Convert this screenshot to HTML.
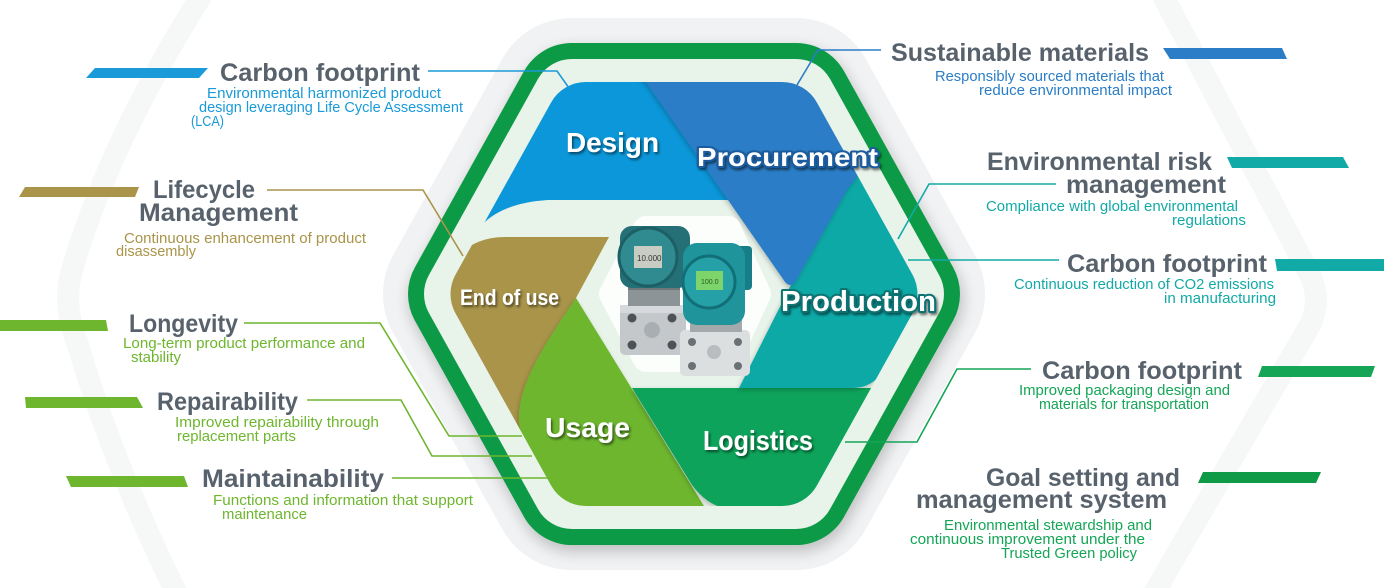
<!DOCTYPE html>
<html><head><meta charset="utf-8">
<style>
html,body{margin:0;padding:0;background:#fff;width:1384px;height:588px;overflow:hidden;}
svg{display:block;}
.h{font-family:"Liberation Sans",Arial,sans-serif;font-weight:bold;font-size:25px;fill:#58626c;}
.d{font-family:"Liberation Sans",Arial,sans-serif;font-size:14.5px;}
.s{font-family:"Liberation Sans",Arial,sans-serif;font-weight:bold;fill:#fff;}
</style></head><body>
<svg width="1384" height="588" viewBox="0 0 1384 588" xmlns="http://www.w3.org/2000/svg">
<defs>
<filter id="sh" x="-20%" y="-20%" width="140%" height="140%"><feGaussianBlur stdDeviation="7"/></filter>
<filter id="ts" x="-10%" y="-40%" width="130%" height="180%"><feDropShadow dx="1.5" dy="2" stdDeviation="1.2" flood-color="#000" flood-opacity="0.55"/></filter>
<filter id="ss" x="-20%" y="-20%" width="140%" height="140%"><feDropShadow dx="-1" dy="2" stdDeviation="2.5" flood-color="#000" flood-opacity="0.22"/></filter>
<mask id="m"><polygon points="490.5,294 586,122 782,122 877.5,294 782,466 586,466" fill="#fff" stroke="#fff" stroke-width="80" stroke-linejoin="round"/></mask>
</defs>

<!-- faint background decorations -->
<g fill="none" stroke="#f6f7f7" stroke-width="22" stroke-linecap="round">
<path d="M205,-10 Q110,140 72,270 Q62,305 78,345 Q115,470 180,600"/>
<path d="M1160,-10 L1310,275 Q1322,300 1310,325 L1150,600"/>
</g>

<!-- halo, shadow, frame -->
<polygon points="463,294 572,98 796,98 905,294 796,490 572,490" fill="#f1f2f3" stroke="#f1f2f3" stroke-width="160" stroke-linejoin="round"/>
<polygon points="463,294 572,98 796,98 905,294 796,490 572,490" transform="translate(2,6)" fill="#000" stroke="#000" stroke-width="112" stroke-linejoin="round" opacity="0.2" filter="url(#sh)"/>
<polygon points="463,294 572,98 796,98 905,294 796,490 572,490" fill="#0c9a46" stroke="#0c9a46" stroke-width="110" stroke-linejoin="round"/>
<polygon points="463,294 572,98 796,98 905,294 796,490 572,490" fill="#e8f3ea" stroke="#e8f3ea" stroke-width="78" stroke-linejoin="round"/>

<!-- segments -->
<g mask="url(#m)">
<path d="M479,228 Q500,203 548,200 L760,200 L760,40 L400,40 L400,228 Z" fill="#0b97d9"/>
<path d="M609,237 L576,298 L540,380 L540,470 L400,470 L400,300 L448,268 Q468,237 505,237 Z" fill="#a9944a"/>
<path d="M576,298 L728,545 L575,545 L570,506 C540,482 518,450 519,415 C520,385 540,350 576,298 Z" fill="#6db62e" filter="url(#ss)"/>
<path d="M632,388 L930,388 L930,545 L742,545 L724,508 Q706,504 692,485 Z" fill="#10a35a" filter="url(#ss)"/>
<path d="M739,388 L853,162 L950,162 L950,300 L882,372 Q872,388 852,388 Z" fill="#08a9a7" filter="url(#ss)"/>
<path d="M640,55 L890,55 L866,158 Q858,178 848,188 L797,279 Q790,291 783,279 L650,88 Q645,80 640,78 Z" fill="#2a7dc6" filter="url(#ss)"/>
</g>

<!-- center white hex -->
<polygon points="646,229 728,229 758,294 728,359 646,359 612,294" fill="#fcfefc" stroke="#fcfefc" stroke-width="26" stroke-linejoin="round"/>

<!-- product: left transmitter -->
<rect x="620" y="305" width="66" height="50" rx="5" fill="#c4c8cb"/>
<rect x="620" y="305" width="66" height="8" fill="#d6d9db"/>
<circle cx="632" cy="318" r="4.5" fill="#4d5256"/><circle cx="672" cy="318" r="4.5" fill="#4d5256"/>
<circle cx="632" cy="345" r="4.5" fill="#4d5256"/><circle cx="672" cy="345" r="4.5" fill="#4d5256"/>
<circle cx="652" cy="330" r="8" fill="#a9aeb2"/>
<rect x="628" y="285" width="52" height="21" fill="#8d9498"/>
<rect x="628" y="285" width="52" height="5" fill="#6f777b"/>
<rect x="620" y="226" width="70" height="62" rx="12" fill="#256f76"/>
<circle cx="648" cy="257" r="29" fill="#2f8b90" stroke="#1c5f65" stroke-width="3"/>
<rect x="634" y="246" width="28" height="22" fill="#c9ccc3"/>
<text x="637" y="261" font-family="Liberation Sans,sans-serif" font-size="8" fill="#333">10.000</text>

<!-- product: right transmitter -->
<rect x="680" y="330" width="70" height="46" rx="5" fill="#dcdfe0"/>
<circle cx="692" cy="342" r="4" fill="#6b7073"/><circle cx="738" cy="342" r="4" fill="#6b7073"/>
<circle cx="692" cy="366" r="4" fill="#6b7073"/><circle cx="738" cy="366" r="4" fill="#6b7073"/>
<circle cx="714" cy="352" r="7" fill="#b9bdc0"/>
<rect x="690" y="320" width="52" height="12" fill="#a4a9ac"/>
<rect x="736" y="246" width="16" height="44" rx="4" fill="#177d86"/>
<rect x="683" y="243" width="62" height="82" rx="14" fill="#1f949b"/>
<circle cx="709" cy="282" r="26" fill="#24a0a6" stroke="#126f77" stroke-width="3"/>
<rect x="696" y="271" width="27" height="19" fill="#7dd46b"/>
<text x="701" y="284" font-family="Liberation Sans,sans-serif" font-size="7" fill="#2c5a22">100.0</text>

<!-- segment labels -->
<g filter="url(#ts)">
<text class="s" x="566" y="152" font-size="28" textLength="93" lengthAdjust="spacingAndGlyphs">Design</text>
<text class="s" x="697" y="166" font-size="26" textLength="181" lengthAdjust="spacingAndGlyphs" stroke="#1c5c9e" stroke-width="4" paint-order="stroke" stroke-linejoin="round">Procurement</text>
<text class="s" x="781" y="311" font-size="29" textLength="155" lengthAdjust="spacingAndGlyphs" stroke="#0a7272" stroke-width="4" paint-order="stroke" stroke-linejoin="round">Production</text>
<text class="s" x="460" y="305" font-size="22" textLength="99" lengthAdjust="spacingAndGlyphs">End of use</text>
<text class="s" x="545" y="437" font-size="28" textLength="85" lengthAdjust="spacingAndGlyphs">Usage</text>
<text class="s" x="703" y="450" font-size="28" textLength="110" lengthAdjust="spacingAndGlyphs">Logistics</text>
</g>

<!-- connectors -->
<g fill="none" stroke-width="1.6">
<polyline points="428,71 557,71 569,88" stroke="#1a9ad8"/>
<polyline points="267,190 423,190 463,256" stroke="#a9944a"/>
<polyline points="244,323 380,323 449,436 522,436" stroke="#6db62e"/>
<polyline points="307,400 401,400 432,456 532,456" stroke="#6db62e"/>
<polyline points="392,478 548,478" stroke="#6db62e"/>
<polyline points="881,50 818,50 797,85" stroke="#2a7dc6"/>
<polyline points="1056,184 929,184 898,239" stroke="#12aaa6"/>
<polyline points="1059,260 908,260" stroke="#12aaa6"/>
<polyline points="1031,369 957,369 917,442 845,442" stroke="#14a556"/>
</g>

<!-- bars -->
<polygon points="95,68 208,68 199,78 86,78" fill="#1a9ad8"/>
<polygon points="25,187 139,187 135,197 19,197" fill="#a9944a"/>
<polygon points="0,320 106,320 108,331 0,331" fill="#6db62e"/>
<polygon points="25,397 137,397 143,408 26,408" fill="#6db62e"/>
<polygon points="66,476 184,476 188,487 71,487" fill="#6db62e"/>
<polygon points="1163,48 1282,48 1287,59 1170,59" fill="#2a7dc6"/>
<polygon points="1227,157 1343,157 1349,168 1232,168" fill="#12aaa6"/>
<polygon points="1275,259 1384,259 1384,271 1277,271" fill="#12aaa6"/>
<polygon points="1262,366 1375,366 1371,377 1258,377" fill="#14a556"/>
<polygon points="1203,472 1321,472 1316,483 1198,483" fill="#0e9a47"/>

<!-- headings -->
<text class="h" x="220" y="81" textLength="200" lengthAdjust="spacingAndGlyphs">Carbon footprint</text>
<text class="h" x="153" y="198" textLength="102" lengthAdjust="spacingAndGlyphs">Lifecycle</text>
<text class="h" x="139" y="221" textLength="159" lengthAdjust="spacingAndGlyphs">Management</text>
<text class="h" x="129" y="332" textLength="109" lengthAdjust="spacingAndGlyphs">Longevity</text>
<text class="h" x="157" y="410" textLength="141" lengthAdjust="spacingAndGlyphs">Repairability</text>
<text class="h" x="202" y="487" textLength="182" lengthAdjust="spacingAndGlyphs">Maintainability</text>
<text class="h" x="891" y="61" textLength="258" lengthAdjust="spacingAndGlyphs">Sustainable materials</text>
<text class="h" x="987" y="170" textLength="225" lengthAdjust="spacingAndGlyphs">Environmental risk</text>
<text class="h" x="1066" y="193" textLength="160" lengthAdjust="spacingAndGlyphs">management</text>
<text class="h" x="1067" y="272" textLength="200" lengthAdjust="spacingAndGlyphs">Carbon footprint</text>
<text class="h" x="1042" y="379" textLength="200" lengthAdjust="spacingAndGlyphs">Carbon footprint</text>
<text class="h" x="986" y="486" textLength="194" lengthAdjust="spacingAndGlyphs">Goal setting and</text>
<text class="h" x="916" y="508" textLength="251" lengthAdjust="spacingAndGlyphs">management system</text>

<!-- descriptions -->
<g class="d" fill="#1a9ad8">
<text x="207" y="98" textLength="234" lengthAdjust="spacingAndGlyphs">Environmental harmonized product</text>
<text x="199" y="112" textLength="264" lengthAdjust="spacingAndGlyphs">design leveraging Life Cycle Assessment</text>
<text x="191" y="126" textLength="33" lengthAdjust="spacingAndGlyphs">(LCA)</text>
</g>
<g class="d" fill="#a9944a">
<text x="124" y="243" textLength="242" lengthAdjust="spacingAndGlyphs">Continuous enhancement of product</text>
<text x="116" y="256" textLength="80" lengthAdjust="spacingAndGlyphs">disassembly</text>
</g>
<g class="d" fill="#6db62e">
<text x="123" y="348" textLength="242" lengthAdjust="spacingAndGlyphs">Long-term product performance and</text>
<text x="131" y="362" textLength="50" lengthAdjust="spacingAndGlyphs">stability</text>
<text x="175" y="427" textLength="204" lengthAdjust="spacingAndGlyphs">Improved repairability through</text>
<text x="177" y="441" textLength="119" lengthAdjust="spacingAndGlyphs">replacement parts</text>
<text x="213" y="505" textLength="260" lengthAdjust="spacingAndGlyphs">Functions and information that support</text>
<text x="222" y="519" textLength="85" lengthAdjust="spacingAndGlyphs">maintenance</text>
</g>
<g class="d" fill="#2a7dc6">
<text x="935" y="81" textLength="229" lengthAdjust="spacingAndGlyphs">Responsibly sourced materials that</text>
<text x="979" y="95" textLength="193" lengthAdjust="spacingAndGlyphs">reduce environmental impact</text>
</g>
<g class="d" fill="#12aaa6">
<text x="986" y="211" textLength="252" lengthAdjust="spacingAndGlyphs">Compliance with global environmental</text>
<text x="1172" y="225" textLength="74" lengthAdjust="spacingAndGlyphs">regulations</text>
<text x="1014" y="289" textLength="260" lengthAdjust="spacingAndGlyphs">Continuous reduction of CO2 emissions</text>
<text x="1164" y="303" textLength="112" lengthAdjust="spacingAndGlyphs">in manufacturing</text>
</g>
<g class="d" fill="#14a556">
<text x="1019" y="395" textLength="211" lengthAdjust="spacingAndGlyphs">Improved packaging design and</text>
<text x="1039" y="409" textLength="170" lengthAdjust="spacingAndGlyphs">materials for transportation</text>
<text x="944" y="530" textLength="208" lengthAdjust="spacingAndGlyphs">Environmental stewardship and</text>
<text x="910" y="544" textLength="235" lengthAdjust="spacingAndGlyphs">continuous improvement under the</text>
<text x="1001" y="558" textLength="136" lengthAdjust="spacingAndGlyphs">Trusted Green policy</text>
</g>
</svg>
</body></html>
